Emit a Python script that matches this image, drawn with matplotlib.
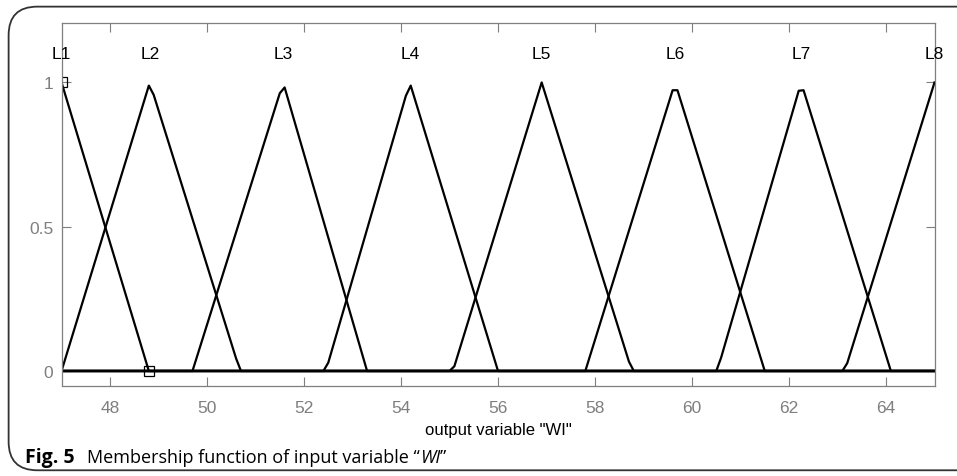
import numpy as np
import matplotlib.pyplot as plt
from matplotlib.patches import FancyBboxPatch
from matplotlib.transforms import offset_copy

plt.rcParams['font.family'] = ['Liberation Sans', 'DejaVu Sans']

# triangular membership functions of "WI": (left foot, peak, right foot)
mf_names = ['L1', 'L2', 'L3', 'L4', 'L5', 'L6', 'L7', 'L8']
mf_left = [45.2, 47.0, 49.70, 52.45, 55.07, 57.80, 60.52, 63.15]
mf_peak = [47.0, 48.82, 51.57, 54.18, 56.90, 59.65, 62.25, 65.0]
mf_right = [48.8, 50.68, 53.30, 56.00, 58.76, 61.50, 64.10, 66.8]

x_range = (47, 65)
x_ticks = [48, 50, 52, 54, 56, 58, 60, 62, 64]
y_ticks = [0, 0.5, 1]
y_tick_labels = ['0', '0.5', '1']

# selected points shown with square markers
sel_x = [47.0, 48.8]
sel_y = [1.0, 0.0]

gray = '#7f7f7f'

fig = plt.figure(figsize=(9.57, 4.77), dpi=100)

# outer rounded frame of the figure panel
frame = FancyBboxPatch((0.009, 0.012), 1.2, 0.972,
                       boxstyle='round,pad=0,rounding_size=0.03',
                       transform=fig.transFigure, fill=False,
                       edgecolor='#333333', linewidth=1.3, mutation_aspect=2.0)
fig.patches.append(frame)

ax = fig.add_axes([0.0643, 0.1887, 0.9122, 0.761])

xs = np.linspace(x_range[0], x_range[1], 181)
for name, a, b, c in zip(mf_names, mf_left, mf_peak, mf_right):
    ys = np.interp(xs, [a, b, c], [0, 1, 0])
    ax.plot(xs, ys, color='black', linewidth=1.6)
    ax.text(b, 1.1, name, ha='center', va='center', fontsize=12.5, color='black')

ax.plot(sel_x, sel_y, linestyle='none', marker='s', markersize=7,
        markerfacecolor='none', markeredgecolor='black', markeredgewidth=0.9)

ax.set_xlim(*x_range)
ax.set_ylim(-0.052, 1.206)
ax.set_xticks(x_ticks)
ax.set_yticks(y_ticks)
ax.set_yticklabels(y_tick_labels)
ax.tick_params(direction='in', length=6.5, width=0.8, color=gray,
               labelcolor=gray, labelsize=12.5, top=True, right=True)
ax.tick_params(axis='x', pad=10)
ax.tick_params(axis='y', pad=6)
for sp in ax.spines.values():
    sp.set_color(gray)
    sp.set_linewidth(0.9)

ax.set_xlabel('output variable "WI"', fontsize=12, color='black', labelpad=5)

# caption, pieces placed one after another
cap_font = ['Open Sans', 'DejaVu Sans']
renderer = fig.canvas.get_renderer()
pieces = [('Fig. 5', 'bold', 'normal', 14, 0),
          ('Membership function of input variable \u201c', 'normal', 'normal', 13, 9),
          ('WI', 'normal', 'italic', 13, 0),
          ('\u201d', 'normal', 'normal', 13, 0)]
x0 = 0.026
trans = fig.transFigure
for txt, weight, style, size, gap in pieces:
    t = fig.text(x0, 0.0395, txt, fontsize=size, fontweight=weight, style=style,
                 family=cap_font, va='center',
                 transform=offset_copy(trans, fig=fig, x=gap, units='points'))
    bb = t.get_window_extent(renderer)
    x0 = bb.x1 / fig.bbox.width

fig.savefig('out.png', dpi=100)
